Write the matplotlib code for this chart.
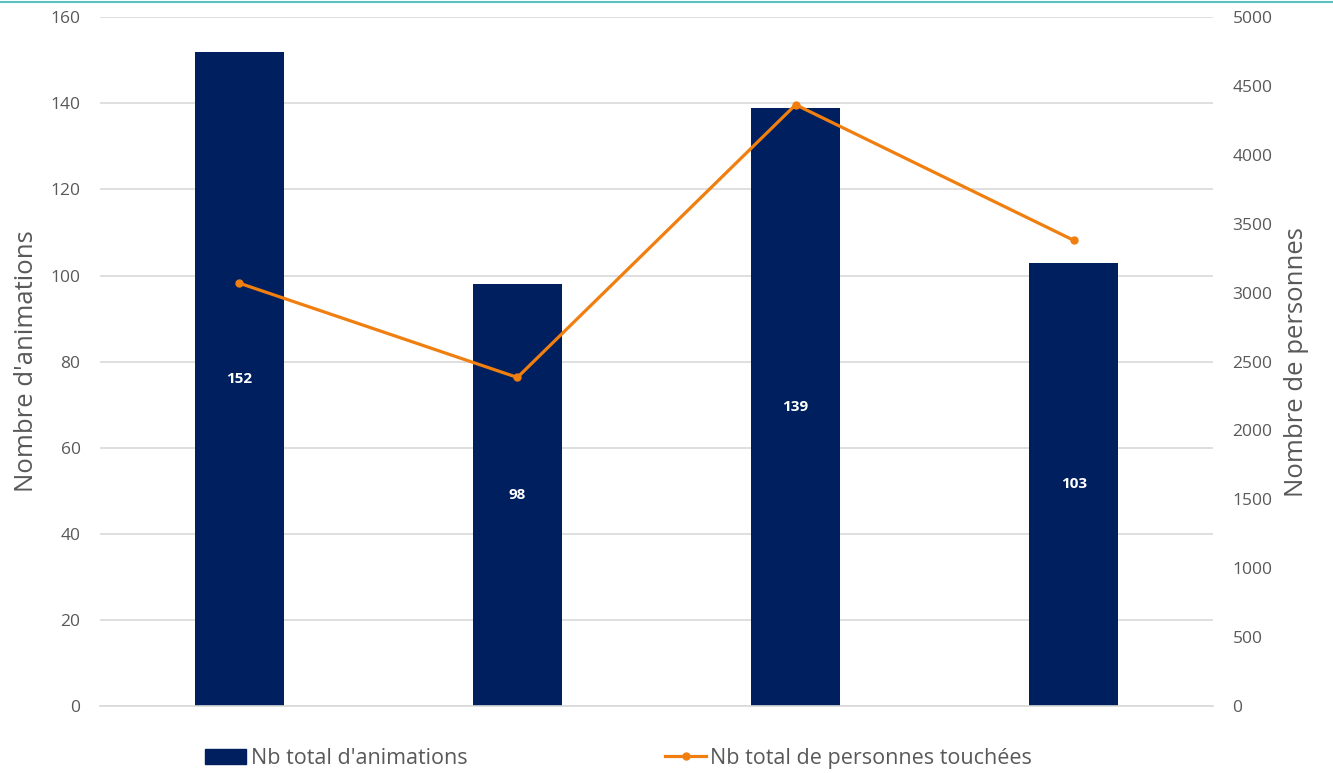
import matplotlib
matplotlib.use("Agg")
import matplotlib.pyplot as plt
from matplotlib.lines import Line2D

categories = ["A", "B", "C", "D"]
animations = [152, 98, 139, 103]
personnes = [3070, 2385, 4365, 3380]
left_ticks = [0, 20, 40, 60, 80, 100, 120, 140, 160]
right_ticks = [0, 500, 1000, 1500, 2000, 2500, 3000, 3500, 4000, 4500, 5000]

plt.rcParams['font.family'] = ['Open Sans', 'DejaVu Sans']

bar_color = "#001F5F"
line_color = "#F07F0F"
gray = "#595959"

fig = plt.figure(figsize=(13.33, 7.73), dpi=100)
ax = fig.add_axes([0.075, 0.0867, 0.835, 0.891])
x = list(range(len(categories)))
bars = ax.bar(x, animations, width=0.32, color=bar_color, zorder=2)
ax.set_xlim(-0.5, len(categories) - 0.5)
ax.set_ylim(0, 160)
ax.set_yticks(left_ticks)
ax.set_xticks([])
ax.yaxis.grid(True, color="#D9D9D9", linewidth=1.2, zorder=0)
ax.set_axisbelow(True)
for s in ["top", "right", "left"]:
    ax.spines[s].set_visible(False)
ax.spines["bottom"].set_color("#D9D9D9")
ax.spines["bottom"].set_linewidth(1.2)
ax.tick_params(axis="y", length=0, labelsize=12.5, colors=gray, pad=14)
ax.set_ylabel("Nombre d'animations", fontsize=18.5, color=gray, labelpad=8)

for xi, v in zip(x, animations):
    ax.text(xi, v / 2, str(v), ha="center", va="center", color="white",
            fontsize=11, fontweight="bold", zorder=4)

ax2 = ax.twinx()
ax2.plot(x, personnes, color=line_color, linewidth=2.3, marker="o",
         markersize=5, zorder=5)
ax2.set_ylim(0, 5000)
ax2.set_yticks(right_ticks)
for s in ["top", "right", "left", "bottom"]:
    ax2.spines[s].set_visible(False)
ax2.tick_params(axis="y", length=0, labelsize=12.5, colors=gray, pad=14)
ax2.set_ylabel("Nombre de personnes", fontsize=18.5, color=gray, labelpad=8)

# top teal line
fig.add_artist(Line2D([0, 1], [0.998, 0.998], color="#5BC0BE", linewidth=1.5,
                      transform=fig.transFigure))

handles = [
    plt.Rectangle((0, 0), 1, 1, color=bar_color),
    Line2D([0], [0], color=line_color, linewidth=2.3, marker="o", markersize=5),
]
labels = ["Nb total d'animations", "Nb total de personnes touchées"]
leg = fig.legend(handles, labels, loc="center left", bbox_to_anchor=(0.1395, 0.019),
                 ncol=2, frameon=False, fontsize=15.5, columnspacing=9.2,
                 handlelength=1.9, handletextpad=0.2)
for t in leg.get_texts():
    t.set_color(gray)

fig.savefig("out.png", dpi=100)
